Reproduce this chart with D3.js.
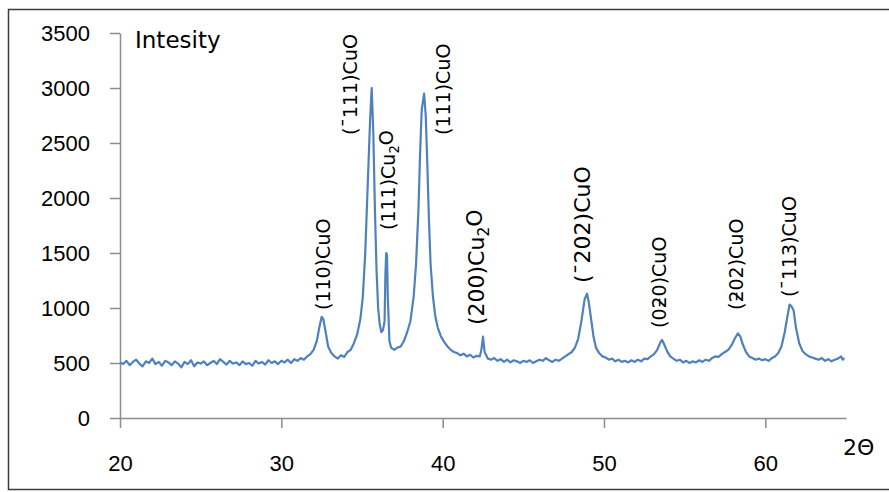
<!DOCTYPE html>
<html lang="en">
<head>
    <title>XRD pattern</title>
    <style>
        body { margin: 0; background: #fff; }
        svg { font-family: "DejaVu Sans", Verdana, sans-serif; }
        .axis .domain, .axis line { stroke: #8c8c8c; stroke-width: 1.5; }
        .axis text { fill: #000; font-size: 22px; }
        .trace { fill: none; stroke: #4f81bd; stroke-width: 2.2; stroke-linejoin: round; }
        .peak { fill: #000; font-size: 19px; }
    </style>
</head>
<body>
<div id="chart"></div>
<script src="https://d3js.org/d3.v7.min.js"></script>
<script>
    // 2-theta (deg) and intensity
    var angle = [
        20.0, 20.2, 20.4, 20.6, 20.8, 21.0, 21.2, 21.4, 21.6, 21.8, 22.0, 22.2, 22.4, 22.6, 22.8,
        23.0, 23.2, 23.4, 23.6, 23.8, 24.0, 24.2, 24.4, 24.6, 24.8, 25.0, 25.2, 25.4, 25.6, 25.8,
        26.0, 26.2, 26.4, 26.6, 26.8, 27.0, 27.2, 27.4, 27.6, 27.8, 28.0, 28.2, 28.4, 28.6, 28.8,
        29.0, 29.2, 29.4, 29.6, 29.8, 30.0, 30.2, 30.4, 30.6, 30.8, 31.0, 31.2, 31.4, 31.6, 31.8,
        32.0, 32.2, 32.35, 32.5, 32.6, 32.75, 32.9, 33.1, 33.3, 33.5, 33.7, 33.9, 34.1, 34.3, 34.5,
        34.7, 34.9, 35.05, 35.2, 35.35, 35.5, 35.6, 35.7, 35.8, 35.9, 36.0, 36.1, 36.2, 36.3,
        36.4, 36.45, 36.5, 36.55, 36.6, 36.7, 36.8, 37.0, 37.2, 37.4, 37.6, 37.8, 38.0, 38.2, 38.35,
        38.5, 38.6, 38.7, 38.85, 38.95, 39.05, 39.15, 39.25, 39.4, 39.55, 39.7, 39.9, 40.1, 40.3, 40.5,
        40.7, 40.9, 41.1, 41.3, 41.5, 41.7, 41.9, 42.1, 42.3, 42.4, 42.5, 42.6, 42.8, 43.0, 43.2,
        43.4, 43.6, 43.8, 44.0, 44.2, 44.4, 44.6, 44.8, 45.0, 45.2, 45.4, 45.6, 45.8, 46.0, 46.2,
        46.4, 46.6, 46.8, 47.0, 47.2, 47.4, 47.6, 47.8, 48.0, 48.2, 48.4, 48.6, 48.8, 48.95, 49.05,
        49.2, 49.35, 49.5, 49.7, 49.9, 50.1, 50.3, 50.5, 50.7, 50.9, 51.1, 51.3, 51.5, 51.7, 51.9,
        52.1, 52.3, 52.5, 52.7, 52.9, 53.1, 53.3, 53.5, 53.6, 53.7, 53.9, 54.1, 54.3, 54.5, 54.7,
        54.9, 55.1, 55.3, 55.5, 55.7, 55.9, 56.1, 56.3, 56.5, 56.7, 56.9, 57.1, 57.3, 57.5, 57.7,
        57.9, 58.1, 58.3, 58.45, 58.6, 58.8, 59.0, 59.2, 59.4, 59.6, 59.8, 60.0, 60.2, 60.4, 60.6,
        60.8, 61.0, 61.2, 61.4, 61.5, 61.6, 61.75, 61.9, 62.1, 62.3, 62.5, 62.7, 62.9, 63.1, 63.3,
        63.5, 63.7, 63.9, 64.1, 64.3, 64.5, 64.7, 64.8, 64.9
    ];
    var intensity = [
        505, 490, 520, 480, 510, 530, 495, 470, 515, 500, 540, 490, 510, 475, 520,
        505, 480, 515, 495, 460, 510, 490, 525, 470, 505, 495, 515, 480, 500, 520,
        490, 535, 510, 485, 520, 495, 505, 480, 515, 490, 500, 475, 520, 495, 510,
        485, 525, 500, 515, 490, 520, 505, 530, 500, 535, 520, 545, 530, 560, 580,
        620, 700, 820, 920, 900, 780, 650, 590, 560, 540, 570, 555, 600, 620, 680,
        760, 900, 1100, 1500, 2100, 2700, 3000, 2600, 1900, 1350, 1000, 850, 780, 800,
        880, 1300, 1500, 1480, 1100, 700, 640, 620, 640, 650, 700, 780, 880, 1100, 1400,
        1900, 2400, 2800, 2950, 2750, 2300, 1800, 1400, 1100, 920, 820, 740, 690, 650, 620,
        600, 590, 570, 585, 560, 575, 550, 565, 560, 620, 740, 600, 540, 530, 545,
        520, 535, 510, 530, 505, 525, 515, 500, 520, 510, 525, 500, 515, 530, 520,
        545, 525, 510, 530, 520, 540, 560, 580, 600, 640, 720, 880, 1080, 1130, 1060,
        900, 740, 640, 590, 560, 550, 530, 540, 515, 530, 510, 520, 505, 525, 510,
        530, 515, 540, 535, 560, 580, 620, 690, 710, 680, 610, 560, 540, 520, 530,
        505, 520, 500, 515, 505, 525, 510, 530, 520, 545, 560, 555, 580, 600, 620,
        660, 720, 770, 740, 670, 600, 560, 545, 530, 540, 525, 535, 520, 545, 560,
        590, 650, 780, 950, 1030, 1020, 980, 820, 680, 610, 580, 560, 550, 540, 530,
        545, 520, 535, 515, 530, 540, 560, 530, 545
    ];

    var xTicks = [20, 30, 40, 50, 60];
    var yTicks = [0, 500, 1000, 1500, 2000, 2500, 3000, 3500];

    // peak annotations: text, angle of label centre, intensity where the label starts
    var peakText = ["(110)CuO", "(\u00AF111)CuO", "(111)Cu|2|O", "(111)CuO", "(200)Cu|2|O",
        "(\u00AF202)CuO", "(0\u01BB0)CuO", "(\u01BB02)CuO", "(\u00AF113)CuO"];
    var peakAngle = [32.58, 34.26, 36.6, 40.02, 42.07, 48.64, 53.42, 58.19, 61.48];
    var peakStart = [982, 2573, 1709, 2573, 845, 1227, 818, 982, 1100];

    var W = 889, H = 492;
    var margin = {top: 33, right: 43, bottom: 74, left: 120};

    var svg = d3.select("#chart").append("svg").attr("width", W).attr("height", H);

    // outer frame
    svg.append("rect").attr("x", 8.5).attr("y", 9.5).attr("width", W).attr("height", 480)
        .attr("fill", "none").attr("stroke", "#3c3c3c").attr("stroke-width", 1.5);

    var x = d3.scaleLinear().domain([20, 65]).range([margin.left, W - margin.right]);
    var y = d3.scaleLinear().domain([0, 3500]).range([H - margin.bottom, margin.top]);

    svg.append("g").attr("class", "axis")
        .attr("transform", "translate(" + margin.left + ",0)")
        .call(d3.axisLeft(y).tickValues(yTicks).tickFormat(d3.format("d"))
            .tickSize(10).tickSizeOuter(0).tickPadding(20));

    svg.append("g").attr("class", "axis")
        .attr("transform", "translate(0," + (H - margin.bottom) + ")")
        .call(d3.axisBottom(x).tickValues(xTicks).tickSize(10).tickSizeOuter(0).tickPadding(27));

    var line = d3.line()
        .x(function (d, i) { return x(angle[i]); })
        .y(function (d) { return y(d); });

    svg.append("path").attr("class", "trace").attr("d", line(intensity));

    // rotated peak labels
    var big = {"(200)Cu|2|O": 22, "(\u00AF202)CuO": 22};
    peakText.forEach(function (t, i) {
        var txt = svg.append("text").attr("class", "peak")
            .attr("transform", "translate(" + x(peakAngle[i]) + "," + y(peakStart[i]) + ") rotate(-90)")
            .attr("dy", "0.36em")
            .style("font-size", (big[t] || 19) + "px");
        t.split("|").forEach(function (part, k) {
            var s = txt.append("tspan").text(part);
            if (k === 1) s.attr("dy", "0.3em").style("font-size", "0.7em");
            if (k === 2) s.attr("dy", "-0.3em");
        });
    });

    svg.append("text").attr("x", 135).attr("y", 48)
        .style("font-size", "23px").text("Intesity");

    svg.append("text").attr("x", 843).attr("y", 455)
        .style("font-size", "22px").text("2\u0398");
</script>
</body>
</html>
